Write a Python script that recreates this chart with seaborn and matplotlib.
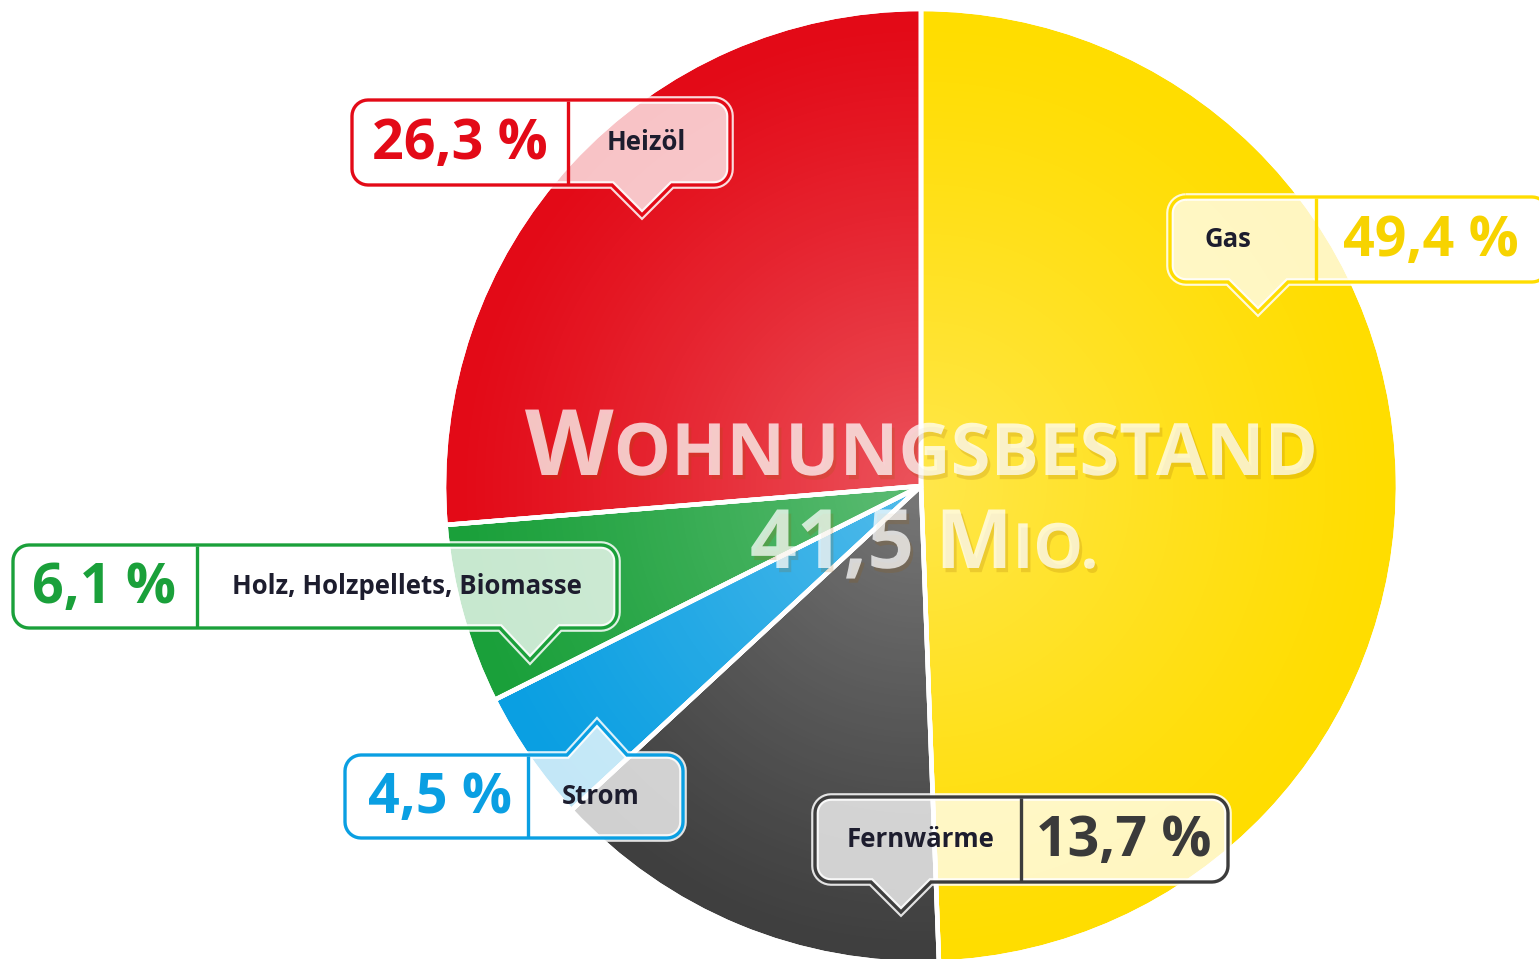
import numpy as np
import matplotlib.pyplot as plt
import matplotlib.patheffects as pe
from matplotlib.patches import Polygon, Circle
import seaborn as sns

# Data: Beheizungsstruktur des Wohnungsbestands (clockwise from top)
labels = ["Gas", "Fernwärme", "Strom", "Holz, Holzpellets, Biomasse", "Heizöl"]
shares = [49.4, 13.7, 4.5, 6.1, 26.3]
pct_text = ["49,4 %", "13,7 %", "4,5 %", "6,1 %", "26,3 %"]
colors = ["#ffdd00", "#3f3f3f", "#0a9fe2", "#1aa03a", "#e30a17"]
text_colors = ["#f7d300", "#3a3a3a", "#0a9fe2", "#1aa03a", "#e30a17"]
total_text = ("WOHNUNGSBESTAND", "41,5 MIO.")

W, H = 1539, 959
sns.set_style("white")
plt.rcParams["font.family"] = ["Open Sans", "DejaVu Sans"]

fig = plt.figure(figsize=(W / 100, H / 100), dpi=100)
ax = fig.add_axes([0, 0, 1, 1])


def Y(py):
    return H - py


cx, cy, R = 921, 486, 477

wedges, _ = ax.pie(shares, colors=colors, startangle=90, counterclock=False,
                   center=(cx, Y(cy)), radius=R,
                   wedgeprops=dict(edgecolor="white", linewidth=3.2))

# soft radial highlight
xs = np.arange(W) + 0.5
ys = np.arange(H) + 0.5
gx, gy = np.meshgrid(xs, ys)
d = np.hypot(gx - cx, gy - cy) / R
img = np.ones((H, W, 4))
img[..., 3] = np.clip(0.30 * (1 - d) ** 1.2, 0, 1)
im = ax.imshow(img, extent=(0, W, 0, H), origin="upper", zorder=2, interpolation="bilinear")
clip = Circle((cx, Y(cy)), R, transform=ax.transData)
im.set_clip_path(clip)
ax.pie(shares, colors=["none"] * 5, startangle=90, counterclock=False,
       center=(cx, Y(cy)), radius=R,
       wedgeprops=dict(edgecolor="white", linewidth=3.2, zorder=3))


def arc(x, y, r, a0, a1, n=10):
    a = np.radians(np.linspace(a0, a1, n))
    return list(zip(x + r * np.cos(a), y + r * np.sin(a)))


def bubble(x0, x1, yt, yb, tip_x, tip_y, half=30, r=16):
    pts = []
    if tip_y < yt:
        pts += [(x0 + r, yt), (tip_x - half, yt), (tip_x, tip_y), (tip_x + half, yt)]
    else:
        pts += [(x0 + r, yt)]
    pts += arc(x1 - r, yt + r, r, -90, 0)
    pts += arc(x1 - r, yb - r, r, 0, 90)
    if tip_y > yb:
        pts += [(tip_x + half, yb), (tip_x, tip_y), (tip_x - half, yb)]
    pts += arc(x0 + r, yb - r, r, 90, 180)
    pts += arc(x0 + r, yt + r, r, 180, 270)
    return [(px, Y(py)) for px, py in pts]


# callouts: box x0, x1, top, bottom, divider, tip, label centre, pct centre
boxes = [
    (1170, 1548, 197, 282, 1316, (1258, 312), 1228, 1431),
    (815, 1228, 797, 882, 1021, (901, 912), 921, 1124),
    (345, 683, 755, 838, 528, (597, 722), 601, 440),
    (13, 617, 545, 628, 197, (530, 660), 407, 104),
    (352, 730, 100, 185, 568, (642, 215), 646, 460),
]

for i, (x0, x1, yt, yb, xd, tip, lx, px) in enumerate(boxes):
    col = colors[i] if i != 1 else "#3c3c3c"
    verts = bubble(x0, x1, yt, yb, tip[0], tip[1])
    ax.add_patch(Polygon(verts, closed=True, facecolor="none",
                         edgecolor="white", linewidth=5.5, alpha=0.85, zorder=5))
    ax.add_patch(Polygon(verts, closed=True, facecolor=(1, 1, 1, 0.76),
                         edgecolor=col, linewidth=2.4, zorder=5))
    ax.plot([xd, xd], [Y(yt + 1), Y(yb - 1)], color=col, linewidth=2.4, zorder=6,
            solid_capstyle="butt")
    ym = Y((yt + yb) / 2)
    ax.text(lx, ym, labels[i], ha="center", va="center", fontsize=18.5,
            fontweight="bold", color="#1d1d2e", zorder=7)
    ax.text(px, ym - 2, pct_text[i], ha="center", va="center", fontsize=40,
            fontweight="bold", color=text_colors[i], zorder=7)

# central title in small caps
fig.canvas.draw()
renderer = fig.canvas.get_renderer()
shadow = [pe.withSimplePatchShadow(offset=(2, -3), shadow_rgbFace="#9a5a00", alpha=0.18)]


def small_caps(parts, x, base):
    for txt, size in parts:
        t = ax.text(x, Y(base), txt, ha="left", va="baseline", fontsize=size,
                    fontweight="bold", color="white", alpha=0.74, zorder=4,
                    path_effects=shadow)
        bb = t.get_window_extent(renderer)
        x += bb.width


small_caps([("W", 66), ("OHNUNGSBESTAND", 52)], 525, 475)
small_caps([("41,5 ", 59), ("M", 59), ("IO.", 45)], 750, 568)

ax.set_xlim(0, W)
ax.set_ylim(0, H)
ax.set_aspect("equal")
ax.axis("off")
fig.savefig("out.png", dpi=100)
